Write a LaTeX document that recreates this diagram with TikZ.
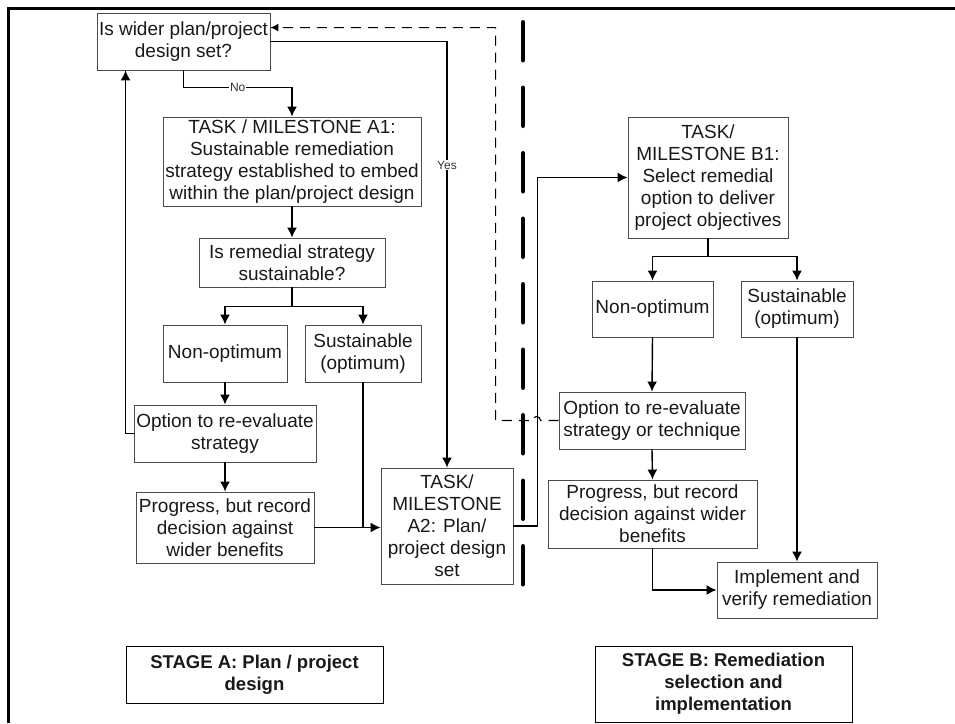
\documentclass[tikz,border=0pt]{standalone}
\usepackage{fontspec}
\setmainfont{Liberation Sans}
\usetikzlibrary{calc, arrows.meta}

\begin{document}
\begin{tikzpicture}[x=1pt, y=-1pt,
        box/.style={draw=black!70, line width=0.9pt, align=center, inner sep=0pt,
            text=black!90, font=\fontsize{19}{22}\selectfont},
        sz/.style 2 args={minimum width=#1pt, minimum height=#2pt},
        stagebox/.style={box, draw=black, font=\fontsize{18.5}{22}\selectfont\bfseries},
        flow/.style={line width=1.4pt, -{Latex[length=10pt,width=10pt]}},
        link/.style={line width=1.4pt},
        lbl/.style={fill=white, inner sep=1pt, text=black!80, font=\fontsize{12}{14}\selectfont},
        back/.style={line width=1.1pt, dash pattern=on 10pt off 7pt, -{Latex[length=8pt,width=8pt]}},
        divider/.style={line width=4.5pt, line cap=round, dash pattern=on 38pt off 27.5pt}]
    \useasboundingbox (0,0) rectangle (955,723);
    \draw[line width=3pt] (8.5,723) -- (8.5,8) -- (955,8);

    % stage A
    \node[box, sz={173}{57}] (q1) at (183.5,41.5) {Is wider plan/project\\design set?};
    \node[box, sz={258}{89}] (a1) at (292,161.5) {TASK / MILESTONE A1:\\Sustainable remediation\\strategy established to embed\\within the plan/project design};
    \node[box, sz={186}{49}] (q2) at (292,262.5) {Is remedial strategy\\sustainable?};
    \node[box, sz={124}{57}] (nonA) at (225,353.5) {Non-optimum};
    \node[box, sz={116}{57}] (susA) at (363,353.5) {Sustainable\\(optimum)};
    \node[box, sz={182}{57}] (optA) at (225,433.5) {Option to re-evaluate\\strategy};
    \node[box, sz={178}{71}] (progA) at (225,527.5) {Progress, but record\\decision against\\wider benefits};
    \node[box, sz={132}{116}] (a2) at (447,526) {TASK/\\MILESTONE\\A2: Plan/\\project design\\set};

    % stage B
    \node[box, sz={160}{121}] (b1) at (708,177.5) {TASK/\\MILESTONE B1:\\Select remedial\\option to deliver\\project objectives};
    \node[box, sz={121}{56}] (nonB) at (652.5,309) {Non-optimum};
    \node[box, sz={112}{56}] (susB) at (797,309) {Sustainable\\(optimum)};
    \node[box, sz={186}{57}] (optB) at (652,420.5) {Option to re-evaluate\\strategy or technique};
    \node[box, sz={209}{68}] (progB) at (652.5,514) {Progress, but record\\decision against wider\\benefits};
    \node[box, sz={160}{56}] (impl) at (797,590) {Implement and\\verify remediation};

    \node[stagebox, sz={257}{57}] (stA) at (254.5,674.5) {STAGE A: Plan / project\\design};
    \node[stagebox, sz={257}{76}] (stB) at (723.5,684) {STAGE B: Remediation\\selection and\\implementation};

    % connectors A
    \draw[flow] (q1.south) -- ++(0,17) -| node[lbl, pos=0.25] {No} (a1.north);
    \draw[flow] (q1.east) -| node[lbl, pos=0.645] {Yes} (a2.north);
    \draw[flow] (a1.south) -- (q2.north);
    \draw[flow] (q2.south) -- ++(0,19) -| (nonA.north);
    \draw[flow] (q2.south) -- ++(0,19) -| (susA.north);
    \draw[flow] (nonA.south) -- (optA.north);
    \draw[flow] (optA.west) -- ++(-8,0) -- ($(q1.south west)+(29,0)$);
    \draw[flow] (optA.south) -- (progA.north);
    \draw[flow] (progA.east) -- (progA.east -| a2.west);
    \draw[link] (susA.south) -- (susA.south |- progA.east);
    \draw[flow] (a2.east) -- ++(24,0) |- (b1.west);

    % connectors B
    \draw[flow] (b1.south) -- ++(0,18) -| (nonB.north);
    \draw[flow] (b1.south) -- ++(0,18) -| (susB.north);
    \draw[flow] (nonB.south) -- (optB.north);
    \draw[flow] (optB.south) -- (progB.north);
    \draw[flow] (progB.south) |- (impl.west);
    \draw[flow] (susB.south) -- (impl.north);

    % way back to the start
    \draw[back] (optB.west) -- ++(-18,0) arc[start angle=0, end angle=-180, radius=4]
        -- ++(-37,0) |- ($(q1.north east)+(0,15)$);

    \draw[divider] (523,22.25) -- (523,584.5);
\end{tikzpicture}
\end{document}
